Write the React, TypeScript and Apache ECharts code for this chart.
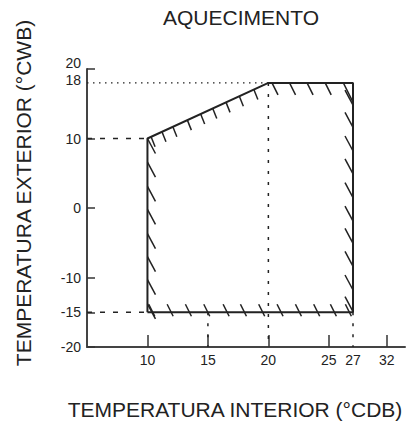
import React, { useEffect, useRef } from "react";
import * as echarts from "echarts";

const FONT = "'Liberation Sans', Arial, Helvetica, sans-serif";
const INK = "#222";

const titleText = "AQUECIMENTO";
const xName = "TEMPERATURA INTERIOR (°CDB)";
const yName = "TEMPERATURA EXTERIOR (°CWB)";

// x axis: value positions and the printed labels (the "32" sits on a broken scale)
const xTickPositions = [10, 15, 20, 25, 27, 29.8];
const xTickLabels = ["10", "15", "20", "25", "27", "32"];
const xTickMarks = [10, 15, 20, 25, 29.8];
const yTickLabels = [-20, -15, -10, 0, 10, 18, 20];
const yTickMarks = [-20, -15, -10, 0, 10, 20];

// operating envelope
const envelope: [number, number][] = [
  [10, -15],
  [10, 10],
  [20, 18],
  [27, 18],
  [27, -15],
  [10, -15],
];

// reference lines
const dotted18: [number, number][] = [[5, 18], [20, 18]];
const dashed10: [number, number][] = [[5, 10], [10, 10]];
const dashedM15: [number, number][] = [[5, -15], [10, -15]];
const vert20: [number, number][] = [[20, 18], [20, -20]];
const vert15: [number, number][] = [[15, -15], [15, -20]];
const vert27: [number, number][] = [[27, -15], [27, -20]];

// hatch marks: [x, y, edge kind]
const hatchLeftY = [10.0, 6.6, 3.1, -0.2, -3.7, -7.0, -10.3, -13.8];
const hatchSlantX = [10.3, 11.2, 12.1, 13.3, 14.4, 15.4, 16.5, 17.6, 18.8];
const hatchSlantY = [10.24, 10.96, 11.68, 12.64, 13.52, 14.32, 15.2, 16.08, 17.04];
const hatchTopX = [20.3, 21.75, 23.2, 24.7];
const hatchCornerX = [26.2];
const hatchRightY = [14.8, 11.6, 8.2, 4.9, 1.5, -1.9, -5.1, -8.4, -11.8, -14.9];
const hatchBottomX = [10.44, 11.96, 13.47, 14.99, 16.59, 18.02, 19.53, 21.05, 22.57, 24.08, 25.46, 26.7];

const hatchData: number[][] = [
  ...hatchLeftY.map((y) => [10, y, 0]),
  ...hatchSlantX.map((x, i) => [x, hatchSlantY[i], 1]),
  ...hatchTopX.map((x) => [x, 18, 2]),
  ...hatchCornerX.map((x) => [x, 18, 5]),
  ...hatchRightY.map((y) => [27, y, 3]),
  ...hatchBottomX.map((x) => [x, -15, 4]),
];

// pixel offsets [x1, y1, x2, y2] relative to the data point, per edge kind
const hatchShapes: Record<number, number[]> = {
  0: [0, 0, 8, 15],
  1: [0, 0, 4, 10],
  2: [0, 0, 6, 12],
  3: [-8, -15, 0, 0],
  4: [-4, -8, 2, 4],
  5: [0, 0, 10, 20],
};

function lineSeries(data: [number, number][], type: any, width = 1.5) {
  return {
    type: "line",
    data,
    symbol: "none",
    silent: true,
    lineStyle: { color: INK, width, type },
    z: 2,
  };
}

export default function App() {
  const ref = useRef<HTMLDivElement>(null);

  useEffect(() => {
    if (!ref.current) return;
    const chart = echarts.init(ref.current, undefined, { renderer: "svg" });
    chart.setOption({
      animation: false,
      backgroundColor: "#fff",
      textStyle: { fontFamily: FONT },
      grid: { left: 87, top: 69, width: 318, height: 278 },
      xAxis: {
        type: "value",
        min: 5,
        max: 31.3,
        splitLine: { show: false },
        axisLine: { onZero: false, lineStyle: { color: "#444", width: 2 } },
        axisTick: {
          show: true,
          inside: true,
          length: 12,
          customValues: xTickMarks,
          lineStyle: { color: "#333", width: 1.5 },
        },
        axisLabel: {
          customValues: xTickPositions,
          margin: 6,
          fontSize: 14,
          color: INK,
          fontFamily: FONT,
          formatter: (v: number) => {
            const i = xTickPositions.findIndex((p) => Math.abs(p - v) < 1e-6);
            return i >= 0 ? xTickLabels[i] : "";
          },
        },
      },
      yAxis: {
        type: "value",
        min: -20,
        max: 20,
        splitLine: { show: false },
        axisLine: { onZero: false, lineStyle: { color: "#444", width: 2 } },
        axisTick: {
          show: true,
          inside: true,
          length: 8,
          customValues: yTickMarks,
          lineStyle: { color: "#333", width: 1.5 },
        },
        axisLabel: {
          customValues: yTickLabels,
          margin: 6,
          fontSize: 14,
          color: INK,
          fontFamily: FONT,
          formatter: (v: number) => {
            if (v === 20) return "{a|20}";
            if (v === 18) return "{b|18}";
            return String(v);
          },
          rich: {
            a: { fontSize: 14, color: INK, fontFamily: FONT, padding: [0, 0, 12, 0] },
            b: { fontSize: 14, color: INK, fontFamily: FONT, padding: [0, 0, 5, 0] },
          },
        },
      },
      graphic: [
        {
          type: "text",
          left: 241 - 78,
          top: 7,
          style: { text: titleText, font: `21px ${FONT}`, fill: INK },
        },
        {
          type: "text",
          x: 235,
          y: 409,
          style: {
            text: xName,
            font: `21px ${FONT}`,
            fill: INK,
            align: "center",
            verticalAlign: "middle",
          },
        },
        {
          type: "text",
          x: 23,
          y: 193,
          rotation: Math.PI / 2,
          style: {
            text: yName,
            font: `21px ${FONT}`,
            fill: INK,
            align: "center",
            verticalAlign: "middle",
          },
        },
      ],
      series: [
        lineSeries(dotted18, [1.5, 4.5], 1.3),
        lineSeries(dashed10, [5, 8]),
        lineSeries(dashedM15, [5, 8]),
        lineSeries(vert20, [3, 8]),
        lineSeries(vert15, [3, 8]),
        lineSeries(vert27, [3, 8]),
        {
          type: "line",
          data: envelope,
          symbol: "none",
          silent: true,
          lineStyle: { color: INK, width: 2 },
          z: 3,
        },
        {
          type: "custom",
          silent: true,
          data: hatchData,
          z: 3,
          renderItem: (_params: any, api: any) => {
            const p = api.coord([api.value(0), api.value(1)]);
            const s = hatchShapes[api.value(2)];
            return {
              type: "line",
              shape: { x1: p[0] + s[0], y1: p[1] + s[1], x2: p[0] + s[2], y2: p[1] + s[3] },
              style: { stroke: INK, lineWidth: 1.5 },
            };
          },
        },
      ],
    });
    return () => chart.dispose();
  }, []);

  return (
    <div
      ref={ref}
      style={{ position: "absolute", left: 0, top: 0, width: 412, height: 428, background: "#fff" }}
    />
  );
}
